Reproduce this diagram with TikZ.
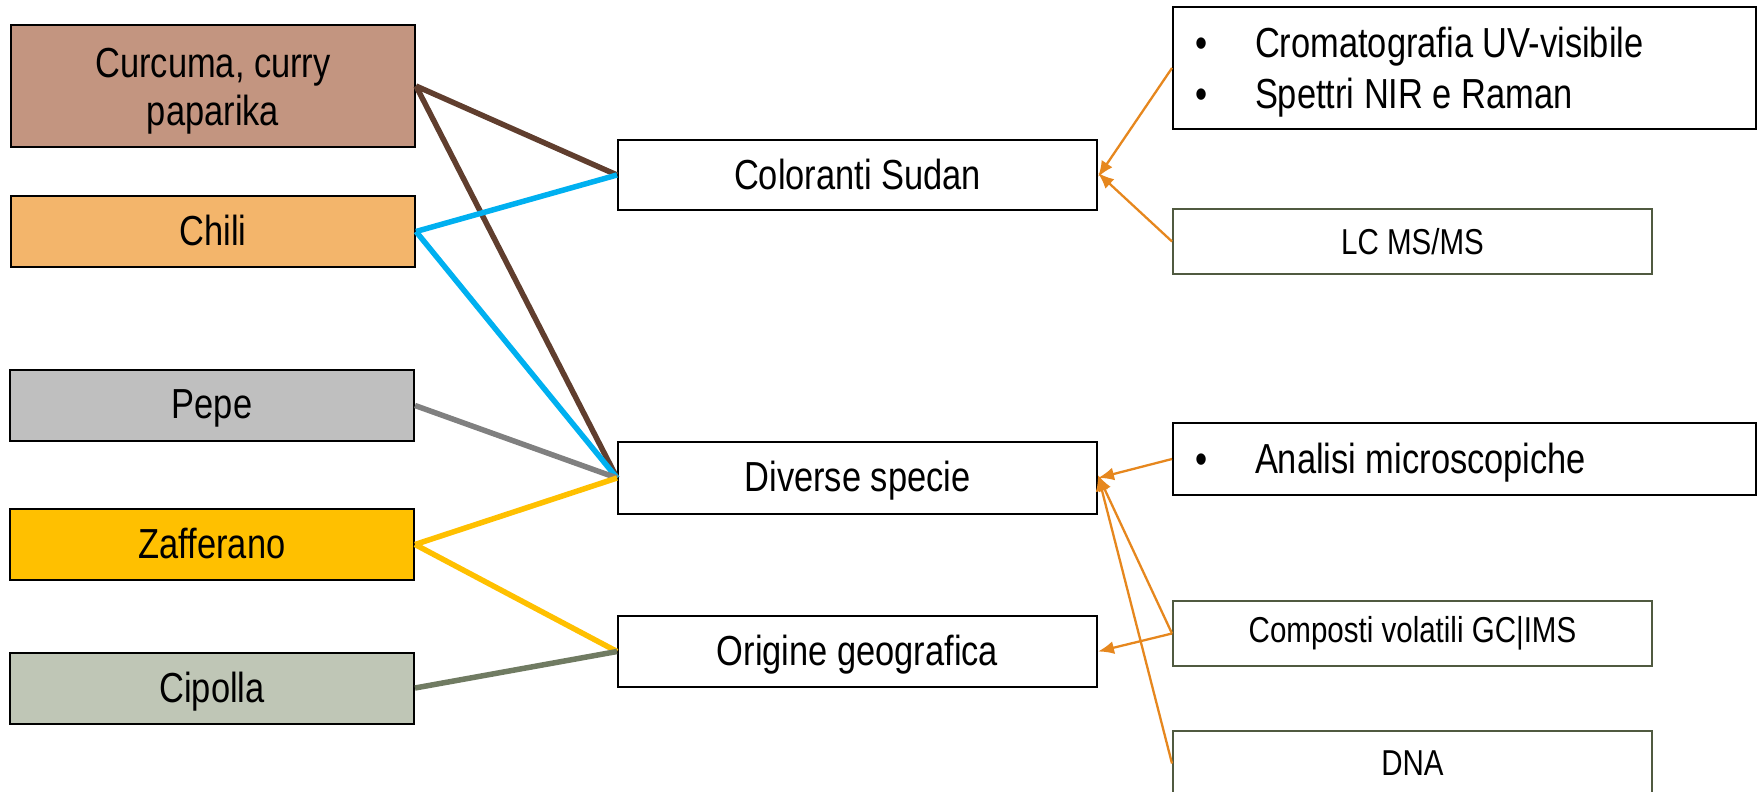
\documentclass[tikz,border=0pt]{standalone}
\usepackage{fontspec}
\setmainfont{Liberation Sans}[FakeStretch=0.82]
\usetikzlibrary{arrows.meta}
\definecolor{cCur}{RGB}{195,149,128}
\definecolor{cChi}{RGB}{243,181,107}
\definecolor{cPep}{RGB}{191,191,191}
\definecolor{cZaf}{RGB}{255,192,0}
\definecolor{cCip}{RGB}{191,198,182}
\definecolor{lBrown}{RGB}{96,62,46}
\definecolor{lBlue}{RGB}{0,176,240}
\definecolor{lGray}{RGB}{128,128,128}
\definecolor{lCip}{RGB}{112,123,98}
\definecolor{cOrange}{RGB}{230,135,30}
\definecolor{cOlive}{RGB}{80,90,64}
\tikzset{
  bigfont/.style={font=\fontsize{42}{48}\selectfont},
  smallfont/.style={font=\fontsize{36}{42}\selectfont},
  lbox/.style={draw=black, line width=2pt, minimum width=404pt, minimum height=71pt, inner sep=0pt, align=flush center, text depth=2pt, bigfont},
  mbox/.style={draw=black, line width=2pt, fill=white, minimum width=479pt, minimum height=71pt, inner sep=0pt, align=flush center, text depth=2pt, bigfont},
  sbox/.style={draw=cOlive, line width=2pt, fill=white, minimum width=479pt, minimum height=65pt, inner sep=0pt, align=flush center, smallfont},
  bbox/.style={draw=black, line width=2pt, fill=white, minimum width=583pt, inner xsep=22pt, inner ysep=0pt, font=\fontsize{42}{51}\selectfont},
  conn/.style={line width=5.5pt},
  arr/.style={draw=cOrange, line width=2.3pt, -{Latex[length=16pt,width=13pt]}},
}
\newcommand{\bul}{\makebox[60pt][l]{\textbullet}}
\newcommand{\leftpar}[2]{\raisebox{#1}[\height][\depth]{\parbox{539pt}{\raggedright #2}}}
\begin{document}
\begin{tikzpicture}[x=1pt,y=-1pt]
\useasboundingbox (0,0) rectangle (1758,792);
% left boxes
\node[lbox, fill=cCur, minimum height=122pt, text depth=] (cur) at (213,86) {\raisebox{-5.5pt}[\height][\depth]{\begin{tabular}{@{}c@{}}Curcuma, curry\\paparika\end{tabular}}};
\node[lbox, fill=cChi] (chi) at (213,231.5) {Chili};
\node[lbox, fill=cPep] (pep) at (212,405.5) {Pepe};
\node[lbox, fill=cZaf] (zaf) at (212,544.5) {Zafferano};
\node[lbox, fill=cCip] (cip) at (212,688) {Cipolla};
% middle boxes
\node[mbox, minimum height=70pt] (col) at (857.5,175) {Coloranti Sudan};
\node[mbox, minimum height=72pt, text depth=4pt] (div) at (857.5,478) {Diverse specie};
\node[mbox] (ori) at (857.5,651.5) {Origine geografica};
% right boxes
\node[bbox, minimum height=122pt] (uv) at (1464.5,68) {\leftpar{-4.5pt}{\bul Cromatografia UV-visibile\\\bul Spettri NIR e Raman}};
\node[sbox] (lc) at (1412.5,241.5) {LC MS/MS};
\node[bbox, minimum height=72pt] (ana) at (1464.5,459) {\leftpar{-3.5pt}{\bul Analisi microscopiche}};
\node[sbox] (comp) at (1412.5,633.5) {Composti volatili GC|IMS};
\node[sbox] (dna) at (1412.5,763.5) {DNA};
% connectors
\draw[conn, lBrown] (cur.east) -- (col.west);
\draw[conn, lBrown] (cur.east) -- (div.west);
\draw[conn, lBlue] (chi.east) -- (col.west);
\draw[conn, lBlue] (chi.east) -- (div.west);
\draw[conn, lGray] (pep.east) -- (div.west);
\draw[conn, cZaf] (zaf.east) -- (div.west);
\draw[conn, cZaf] (zaf.east) -- (ori.west);
\draw[conn, lCip] (cip.east) -- (ori.west);
% arrows
\draw[arr] (uv.west) -- ([yshift=-2pt]col.east);
\draw[arr] (lc.west) -- ([yshift=2pt]col.east);
\draw[arr] (ana.west) -- (div.east);
\draw[arr] (comp.west) -- ([yshift=3pt]div.east);
\draw[arr] (comp.west) -- (ori.east);
\draw[arr] (dna.west) -- ([yshift=3pt]div.east);
\end{tikzpicture}
\end{document}
